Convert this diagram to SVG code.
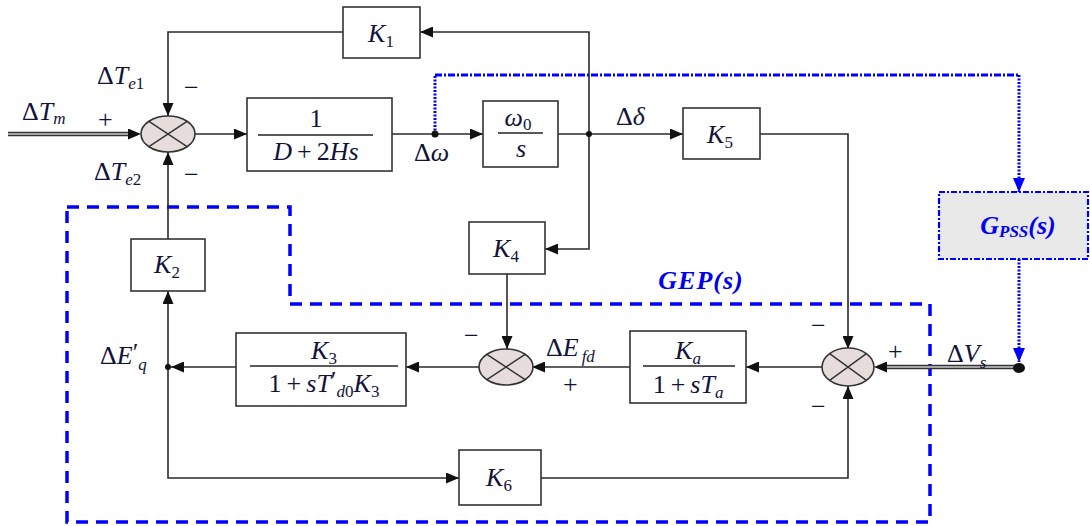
<svg xmlns="http://www.w3.org/2000/svg" width="1090" height="526" viewBox="0 0 1090 526">
<style>
.box{fill:#fff;stroke:#333;stroke-width:1.6}
.sum{fill:#e6dcdc;stroke:#333;stroke-width:1.6}
.x{stroke:#333;stroke-width:1.4}
.ln{fill:none;stroke:#2a2a2a;stroke-width:1.6}
.dbl{fill:none;stroke:#333;stroke-width:4.5}
.dbli{fill:none;stroke:#ccc;stroke-width:1.5}
.blue{fill:none;stroke:#0000ff;stroke-width:3;stroke-dasharray:2 1.5}
.blueh{fill:none;stroke:#0000ff;stroke-width:3;stroke-dasharray:7 2 2 2}
.gep{fill:none;stroke:#0000ff;stroke-width:3.5;stroke-dasharray:12 8}
.t{font-family:"Liberation Serif","Times New Roman",serif;font-size:26px;fill:#12123a}
.i{font-style:italic}
.s{font-size:17px}
.bl{font-family:"Liberation Serif","Times New Roman",serif;font-size:26px;fill:#0000ee;font-weight:bold;font-style:italic}
.frac{stroke:#222;stroke-width:1.3}
</style>
<defs>
<marker id="a" markerUnits="userSpaceOnUse" markerWidth="13" markerHeight="11" refX="13" refY="5.5" orient="auto"><path d="M0,0 L13,5.5 L0,11 z" fill="#111"/></marker>
<marker id="a0" markerUnits="userSpaceOnUse" markerWidth="13" markerHeight="11" refX="0" refY="5.5" orient="auto"><path d="M0,0 L13,5.5 L0,11 z" fill="#111"/></marker>
<marker id="ab" markerUnits="userSpaceOnUse" markerWidth="14" markerHeight="12" refX="14" refY="6" orient="auto"><path d="M0,0 L14,6 L0,12 z" fill="#0000ff"/></marker>
</defs>

<path class="gep" d="M67,207 H290 V304 H930 V522 H67 Z"/>

<g id="connectors">
<path class="dbl" d="M8,134 H128" marker-end="url(#a0)"/>
<path class="dbli" d="M8,134 H128"/>
<path class="ln" d="M195,134 H247" marker-end="url(#a)"/>
<path class="ln" d="M392,134 H483" marker-end="url(#a)"/>
<path class="ln" d="M558,134 H683" marker-end="url(#a)"/>
<path class="ln" d="M760,134 H848 V349" marker-end="url(#a)"/>
<path class="ln" d="M589,134 V32 H420" marker-end="url(#a)"/>
<path class="ln" d="M589,134 V249 H545" marker-end="url(#a)"/>
<path class="ln" d="M343,32 H168 V116" marker-end="url(#a)"/>
<path class="ln" d="M168,239 V152" marker-end="url(#a)"/>
<path class="ln" d="M168,367 V291" marker-end="url(#a)"/>
<path class="ln" d="M236,367 H171" marker-end="url(#a)"/>
<path class="ln" d="M168,367 V478 H459" marker-end="url(#a)"/>
<path class="ln" d="M541,478 H848 V386" marker-end="url(#a)"/>
<path class="ln" d="M822,367 H746" marker-end="url(#a)"/>
<path class="ln" d="M630,367 H532" marker-end="url(#a)"/>
<path class="ln" d="M507,274 V349" marker-end="url(#a)"/>
<path class="ln" d="M479,367 H406" marker-end="url(#a)"/>
<path class="dbl" d="M1019,367 H887" marker-end="url(#a0)"/>
<path class="dbli" d="M1019,367 H887"/>
<path class="blue" d="M435,134 V75"/>
<path class="blueh" d="M435,75 H1019"/>
<path class="blue" d="M1019,75 V192" marker-end="url(#ab)"/>
<path class="blue" d="M1019,259 V362" marker-end="url(#ab)"/>
<circle cx="435" cy="134" r="3.5" fill="#111"/>
<circle cx="589" cy="134" r="3" fill="#111"/>
<circle cx="168" cy="367" r="3" fill="#111"/>
<ellipse cx="1019" cy="368" rx="6" ry="5" fill="#111"/>
</g>

<g id="sum1">
<ellipse class="sum" cx="168" cy="134" rx="27" ry="18"/>
<path class="x" d="M148.9,121.3 L187.1,146.7 M148.9,146.7 L187.1,121.3"/>
</g>
<g id="sum2">
<ellipse class="sum" cx="848" cy="367" rx="26" ry="19"/>
<path class="x" d="M829.6,353.6 L866.4,380.4 M829.6,380.4 L866.4,353.6"/>
</g>
<g id="sum3">
<ellipse class="sum" cx="506" cy="367" rx="27" ry="18"/>
<path class="x" d="M486.9,354.3 L525.1,379.7 M486.9,379.7 L525.1,354.3"/>
</g>

<g id="K1">
<rect class="box" x="343" y="7" width="77" height="51"/>
<text class="t" x="381" y="42" text-anchor="middle"><tspan class="i">K</tspan><tspan class="s" dy="5">1</tspan></text>
</g>
<g id="G1">
<rect class="box" x="247" y="98" width="145" height="73"/>
<text class="t" x="316" y="127" text-anchor="middle">1</text>
<line class="frac" x1="258" y1="135" x2="373" y2="135"/>
<text class="t" x="316" y="160" text-anchor="middle" font-size="27"><tspan class="i">D</tspan><tspan dx="5">+</tspan><tspan dx="5">2</tspan><tspan class="i">Hs</tspan></text>
</g>
<g id="G2">
<rect class="box" x="483" y="101" width="75" height="66"/>
<text class="t" x="518" y="126" text-anchor="middle"><tspan class="i">ω</tspan><tspan class="s" dy="4">0</tspan></text>
<line class="frac" x1="498" y1="133" x2="543" y2="133"/>
<text class="t i" x="521" y="157" text-anchor="middle">s</text>
</g>
<g id="K5">
<rect class="box" x="683" y="108" width="77" height="51"/>
<text class="t" x="720" y="143" text-anchor="middle"><tspan class="i">K</tspan><tspan class="s" dy="5">5</tspan></text>
</g>
<g id="K4">
<rect class="box" x="469" y="222" width="76" height="52"/>
<text class="t" x="506" y="257" text-anchor="middle"><tspan class="i">K</tspan><tspan class="s" dy="5">4</tspan></text>
</g>
<g id="K2">
<rect class="box" x="131" y="239" width="74" height="52"/>
<text class="t" x="167" y="273" text-anchor="middle"><tspan class="i">K</tspan><tspan class="s" dy="5">2</tspan></text>
</g>
<g id="K3">
<rect class="box" x="236" y="333" width="170" height="73"/>
<text class="t" x="324" y="359" text-anchor="middle"><tspan class="i">K</tspan><tspan class="s" dy="5">3</tspan></text>
<line class="frac" x1="250" y1="366" x2="398" y2="366"/>
<text class="t" x="324" y="392" text-anchor="middle" font-size="27">1<tspan dx="5">+</tspan><tspan class="i" dx="5">sT</tspan><tspan dy="-3">′</tspan><tspan class="s i" dy="8">d</tspan><tspan class="s">0</tspan><tspan class="i" dy="-5">K</tspan><tspan class="s" dy="5">3</tspan></text>
</g>
<g id="Ka">
<rect class="box" x="630" y="331" width="116" height="72"/>
<text class="t" x="688" y="359" text-anchor="middle"><tspan class="i">K</tspan><tspan class="s i" dy="5">a</tspan></text>
<line class="frac" x1="643" y1="366" x2="735" y2="366"/>
<text class="t" x="688" y="393" text-anchor="middle" font-size="27">1<tspan dx="5">+</tspan><tspan class="i" dx="5">sT</tspan><tspan class="s i" dy="5">a</tspan></text>
</g>
<g id="K6">
<rect class="box" x="459" y="450" width="82" height="55"/>
<text class="t" x="499" y="486" text-anchor="middle"><tspan class="i">K</tspan><tspan class="s" dy="5">6</tspan></text>
</g>
<g id="GPSS">
<rect x="939" y="192" width="149" height="67" fill="#e8e8e8" stroke="#0000ff" stroke-width="2.2" stroke-dasharray="6 2 2 2"/>
<text class="bl" x="1018" y="234" text-anchor="middle">G<tspan font-size="17" dy="3">PSS</tspan><tspan dy="-3">(s)</tspan></text>
</g>

<g id="labels">
<text class="t" x="22" y="120">Δ<tspan class="i">T</tspan><tspan class="s i" dy="4">m</tspan></text>
<text class="t" x="98" y="128">+</text>
<text class="t" x="97" y="84">Δ<tspan class="i">T</tspan><tspan class="s" dy="5"><tspan class="i">e</tspan>1</tspan></text>
<text class="t" x="184" y="96">−</text>
<text class="t" x="94" y="180">Δ<tspan class="i">T</tspan><tspan class="s" dy="5"><tspan class="i">e</tspan>2</tspan></text>
<text class="t" x="184" y="183">−</text>
<text class="t" x="414" y="161">Δ<tspan class="i">ω</tspan></text>
<text class="t" x="616" y="125">Δ<tspan class="i">δ</tspan></text>
<text class="t" x="100" y="364">Δ<tspan class="i">E</tspan><tspan dy="-3">′</tspan><tspan class="s i" dy="9">q</tspan></text>
<text class="t" x="464" y="344">−</text>
<text class="t" x="546" y="356">Δ<tspan class="i">E</tspan><tspan class="s i" dx="3" dy="6">fd</tspan></text>
<text class="t" x="563" y="393">+</text>
<text class="t" x="811" y="334">−</text>
<text class="t" x="888" y="360">+</text>
<text class="t" x="811" y="415">−</text>
<text class="t" x="947" y="362">Δ<tspan class="i">V</tspan><tspan class="s i" dy="6">s</tspan></text>
<text class="bl" x="701" y="289" text-anchor="middle" letter-spacing="1">GEP(s)</text>
</g>
</svg>
